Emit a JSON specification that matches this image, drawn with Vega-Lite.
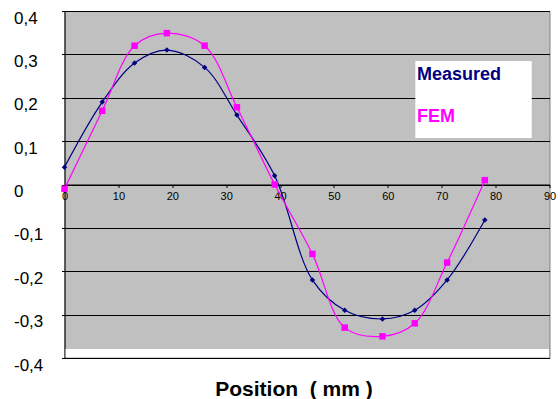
{
  "$schema": "https://vega.github.io/schema/vega-lite/v6.json",
  "width": 485,
  "height": 347,
  "autosize": {"type": "none"},
  "padding": {"left": 64.5, "top": 11, "right": 10.5, "bottom": 41},
  "background": "white",
  "config": {
    "view": {"stroke": "#808080", "fill": "#c0c0c0"},
    "font": "Liberation Sans"
  },
  "title": {
    "text": "Position\u00a0 ( mm )",
    "orient": "bottom",
    "anchor": "middle",
    "frame": "group",
    "fontSize": 21,
    "fontWeight": "bold",
    "font": "Liberation Sans",
    "color": "black",
    "offset": 6,
    "dx": -13
  },
  "data": {
    "values": [
      {"series": "Measured", "x": 0, "y": 0.04},
      {"series": "Measured", "x": 7, "y": 0.19},
      {"series": "Measured", "x": 13, "y": 0.28},
      {"series": "Measured", "x": 19, "y": 0.31},
      {"series": "Measured", "x": 26, "y": 0.27},
      {"series": "Measured", "x": 32, "y": 0.16},
      {"series": "Measured", "x": 39, "y": 0.02},
      {"series": "Measured", "x": 46, "y": -0.22},
      {"series": "Measured", "x": 52, "y": -0.29},
      {"series": "Measured", "x": 59, "y": -0.31},
      {"series": "Measured", "x": 65, "y": -0.29},
      {"series": "Measured", "x": 71, "y": -0.22},
      {"series": "Measured", "x": 78, "y": -0.082},
      {"series": "FEM", "x": 0, "y": -0.01},
      {"series": "FEM", "x": 7, "y": 0.17},
      {"series": "FEM", "x": 13, "y": 0.32},
      {"series": "FEM", "x": 19, "y": 0.349},
      {"series": "FEM", "x": 26, "y": 0.32},
      {"series": "FEM", "x": 32, "y": 0.178},
      {"series": "FEM", "x": 39, "y": 0.0},
      {"series": "FEM", "x": 46, "y": -0.16},
      {"series": "FEM", "x": 52, "y": -0.33},
      {"series": "FEM", "x": 59, "y": -0.35},
      {"series": "FEM", "x": 65, "y": -0.32},
      {"series": "FEM", "x": 71, "y": -0.18},
      {"series": "FEM", "x": 78, "y": 0.01}
    ]
  },
  "layer": [
    {
      "data": {"values": [{}]},
      "mark": {"type": "rect", "color": "white"},
      "encoding": {
        "x": {"datum": 0.2, "type": "quantitative"},
        "x2": {"datum": 89.9},
        "y": {"datum": -0.3795, "type": "quantitative"},
        "y2": {"datum": -0.398}
      }
    },
    {
      "data": {"values": [{}]},
      "mark": {"type": "rect", "color": "white"},
      "encoding": {
        "x": {"datum": 65.1, "type": "quantitative"},
        "x2": {"datum": 86.7},
        "y": {"datum": 0.2846, "type": "quantitative"},
        "y2": {"datum": 0.107}
      }
    },
    {
      "mark": {"type": "line", "interpolate": "catmull-rom", "strokeWidth": 1.2},
      "encoding": {
        "x": {
          "field": "x",
          "type": "quantitative",
          "scale": {"domain": [0, 90], "nice": false, "zero": false},
          "axis": {
            "orient": "bottom",
            "offset": -173.5,
            "title": null,
            "values": [0, 10, 20, 30, 40, 50, 60, 70, 80, 90],
            "grid": false,
            "domainColor": "black",
            "tickColor": "black",
            "tickSize": 3,
            "labelFontSize": 11,
            "labelColor": "black",
            "labelPadding": 3,
            "labelFlush": false,
            "labelOverlap": false,
            "labelBound": false
          }
        },
        "y": {
          "field": "y",
          "type": "quantitative",
          "scale": {"domain": [-0.4, 0.4], "nice": false, "zero": false},
          "axis": {
            "title": null,
            "values": [-0.4, -0.3, -0.2, -0.1, 0, 0.1, 0.2, 0.3, 0.4],
            "labelExpr": "datum.value == 0 ? '0' : replace(replace(format(datum.value, '.1f'), '.', ','), '−', '-')",
            "grid": true,
            "gridColor": "black",
            "gridOpacity": 1,
            "gridWidth": 1,
            "domainColor": "black",
            "tickColor": "black",
            "tickSize": 3,
            "labelAlign": "left",
            "labelPadding": 48,
            "labelOffset": 7,
            "labelFontSize": 17,
            "labelColor": "black",
            "labelFlush": false,
            "labelOverlap": false,
            "labelBound": false
          }
        },
        "color": {
          "field": "series",
          "type": "nominal",
          "scale": {"domain": ["Measured", "FEM"], "range": ["#000080", "#ff00ff"]},
          "legend": {
            "orient": "none",
            "legendX": 328.5,
            "legendY": 48.5,
            "title": null,
            "padding": 6,
            "symbolSize": 0,
            "symbolStrokeWidth": 0,
            "labelOffset": 0,
            "labelFontSize": 18,
            "labelFontWeight": "bold",
            "rowPadding": 24,
            "encode": {
              "labels": {"update": {"fill": {"scale": "color", "field": "value"}}}
            }
          }
        }
      }
    },
    {
      "transform": [{"filter": "datum.series == 'Measured'"}],
      "mark": {"type": "point", "shape": "diamond", "filled": true, "size": 30, "color": "#000080", "opacity": 1},
      "encoding": {
        "x": {"field": "x", "type": "quantitative"},
        "y": {"field": "y", "type": "quantitative"}
      }
    },
    {
      "transform": [{"filter": "datum.series == 'FEM'"}],
      "mark": {"type": "point", "shape": "square", "filled": true, "size": 42, "color": "#ff00ff", "opacity": 1},
      "encoding": {
        "x": {"field": "x", "type": "quantitative"},
        "y": {"field": "y", "type": "quantitative"}
      }
    }
  ]
}
